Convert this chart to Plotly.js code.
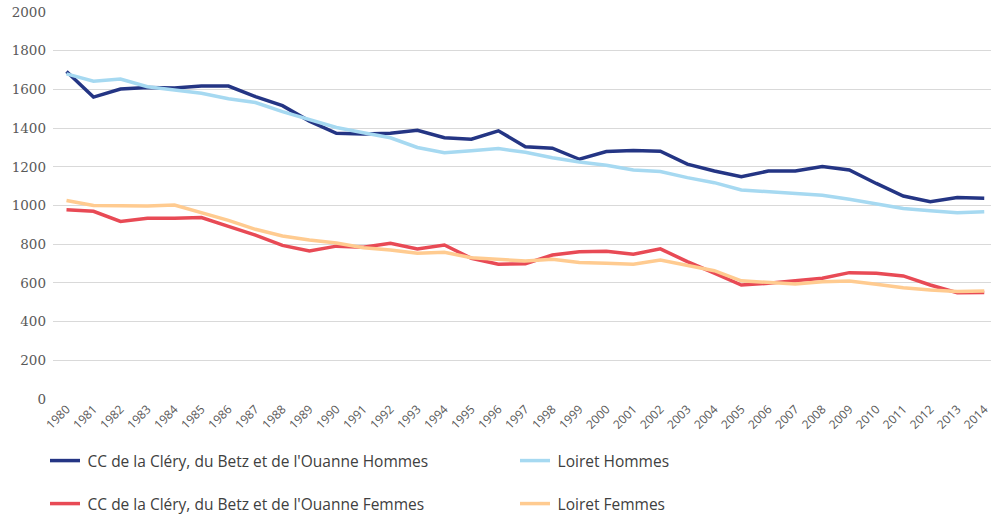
<!DOCTYPE html>
<html>
<head>
<meta charset="utf-8">
<script src="https://cdn.plot.ly/plotly-3.0.1.min.js"></script>
<style>html,body{margin:0;padding:0;background:#fff;}#chart{width:991px;height:516px;}</style>
</head>
<body>
<div id="chart"></div>
<script>
const years = ["1980","1981","1982","1983","1984","1985","1986","1987","1988","1989","1990","1991","1992","1993","1994","1995","1996","1997","1998","1999","2000","2001","2002","2003","2004","2005","2006","2007","2008","2009","2010","2011","2012","2013","2014"];
const ccHommes = [1692,1560,1602,1610,1607,1618,1617,1563,1516,1436,1373,1369,1373,1389,1350,1343,1386,1304,1296,1239,1279,1284,1281,1214,1178,1149,1178,1178,1201,1184,1114,1049,1020,1041,1038];
const loiretHommes = [1680,1642,1654,1614,1597,1580,1552,1532,1485,1442,1403,1376,1350,1300,1273,1283,1294,1275,1247,1225,1208,1183,1176,1144,1118,1080,1070,1063,1053,1032,1008,985,973,963,968];
const ccFemmes = [978,970,918,934,934,938,892,847,794,765,790,784,805,775,796,727,696,699,744,761,763,748,776,710,650,589,598,611,624,653,650,636,589,549,550];
const loiretFemmes = [1026,1000,999,998,1002,962,923,877,842,822,806,782,770,753,758,730,723,713,722,706,701,696,718,689,663,611,601,594,606,610,593,575,563,555,558];
const seriesNames = ["CC de la Cléry, du Betz et de l'Ouanne Hommes","Loiret Hommes","CC de la Cléry, du Betz et de l'Ouanne Femmes","Loiret Femmes"];
const yTicks = [0,200,400,600,800,1000,1200,1400,1600,1800,2000];

const colors = ["#243584","#A6D9F1","#E84A55","#FFCB90"];
const data = [ccHommes, loiretHommes, ccFemmes, loiretFemmes].map((vals, i) => ({
  type: "scatter",
  mode: "lines",
  x: years,
  y: vals,
  name: "\u2009" + seriesNames[i],
  line: {color: colors[i], width: 3.5, shape: "linear"},
  legend: i < 2 ? "legend" : "legend2",
  hoverinfo: "x+y"
}));

const legendCommon = {
  orientation: "h",
  xref: "container", yref: "container",
  xanchor: "left", yanchor: "middle",
  entrywidth: 425, entrywidthmode: "pixels",
  itemwidth: 30,
  font: {family: "Open Sans, sans-serif", size: 15.5, color: "#404040"},
  bgcolor: "rgba(0,0,0,0)",
  traceorder: "normal"
};

const layout = {
  width: 991, height: 516,
  margin: {l: 52.5, r: 0.25, t: 12, b: 117, pad: 0},
  paper_bgcolor: "#ffffff",
  plot_bgcolor: "#ffffff",
  font: {family: "Open Sans, sans-serif", color: "#595959"},
  showlegend: true,
  xaxis: {
    type: "category",
    range: [-0.5, 34.25],
    showgrid: false, zeroline: false, showline: false,
    ticks: "",
    tickangle: -45,
    tickfont: {family: "Open Sans, sans-serif", size: 12, color: "#595959"},
    fixedrange: true
  },
  yaxis: {
    range: [0, 2000],
    tickvals: yTicks,
    ticktext: yTicks.map(String),
    showgrid: true, gridcolor: "#D9D9D9", gridwidth: 1,
    zeroline: false, showline: false,
    ticks: "",
    tickfont: {family: "'DejaVu Serif', serif", size: 13.5, color: "#595959"},
    ticklabelstandoff: 6,
    fixedrange: true
  },
  legend: Object.assign({}, legendCommon, {x: 45/991, y: 1 - 461/516}),
  legend2: Object.assign({}, legendCommon, {x: 45/991, y: 1 - 504/516})
};

Plotly.newPlot("chart", data, layout, {displayModeBar: false, staticPlot: false});
</script>
</body>
</html>
